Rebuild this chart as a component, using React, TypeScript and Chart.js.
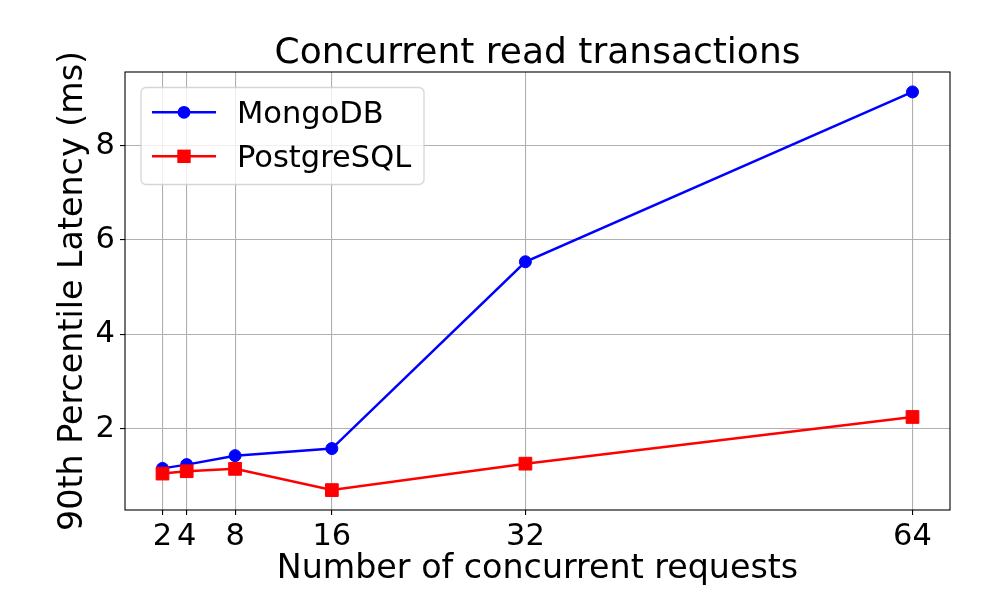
import React, { useEffect, useRef } from "react";
import { Chart, registerables } from "chart.js";

Chart.register(...registerables);

const titleText = "Concurrent read transactions";
const xAxisLabel = "Number of concurrent requests";
const yAxisLabel = "90th Percentile Latency (ms)";
const xValues = [2, 4, 8, 16, 32, 64];
const mongoValues = [1.16, 1.24, 1.43, 1.58, 5.54, 9.14];
const postgresValues = [1.05, 1.1, 1.15, 0.7, 1.26, 2.25];
const yTickValues = [2, 4, 6, 8];
const seriesLabels = ["MongoDB", "PostgreSQL"];

const FONT = "'DejaVu Sans', 'Liberation Sans', sans-serif";

const spinePlugin = {
  id: "spines",
  afterDatasetsDraw(chart: any) {
    const { ctx, chartArea } = chart;
    ctx.save();
    ctx.strokeStyle = "#000";
    ctx.lineWidth = 1.1;
    ctx.strokeRect(chartArea.left, chartArea.top, chartArea.right - chartArea.left, chartArea.bottom - chartArea.top);
    ctx.restore();
  },
};

const legendPlugin = {
  id: "mplLegend",
  afterDraw(chart: any) {
    const { ctx, chartArea } = chart;
    const left = chartArea.left + 16;
    const top = chartArea.top + 15.5;
    const w = 283;
    const h = 97;
    ctx.save();
    ctx.beginPath();
    if ((ctx as any).roundRect) (ctx as any).roundRect(left, top, w, h, 5);
    else ctx.rect(left, top, w, h);
    ctx.fillStyle = "rgba(255,255,255,0.8)";
    ctx.fill();
    ctx.strokeStyle = "rgba(204,204,204,0.8)";
    ctx.lineWidth = 1.3;
    ctx.stroke();
    chart.data.datasets.forEach((ds: any, i: number) => {
      const y = top + 24.8 + i * 44;
      const x0 = left + 11;
      const x1 = left + 75;
      const xm = (x0 + x1) / 2;
      ctx.strokeStyle = ds.borderColor;
      ctx.lineWidth = 2.5;
      ctx.beginPath();
      ctx.moveTo(x0, y);
      ctx.lineTo(x1, y);
      ctx.stroke();
      ctx.fillStyle = ds.pointBackgroundColor;
      ctx.beginPath();
      if (ds.pointStyle === "rect") {
        ctx.rect(xm - 6.7, y - 6.7, 13.4, 13.4);
      } else {
        ctx.arc(xm, y, 6.4, 0, Math.PI * 2);
      }
      ctx.fill();
      ctx.fillStyle = "#000";
      ctx.font = `30.5px ${FONT}`;
      ctx.textBaseline = "alphabetic";
      ctx.textAlign = "left";
      ctx.fillText(ds.label, left + 96, y + 10.5);
    });
    ctx.restore();
  },
};

export default function App() {
  const canvasRef = useRef<HTMLCanvasElement | null>(null);

  useEffect(() => {
    const canvas = canvasRef.current;
    if (!canvas) return;
    const chart = new Chart(canvas, {
      type: "line",
      data: {
        datasets: [
          {
            label: seriesLabels[0],
            data: xValues.map((x, i) => ({ x, y: mongoValues[i] })),
            borderColor: "#0000ff",
            backgroundColor: "#0000ff",
            pointBackgroundColor: "#0000ff",
            pointBorderColor: "#0000ff",
            pointStyle: "circle",
            pointRadius: 6,
            pointBorderWidth: 1,
            borderWidth: 2.5,
            tension: 0,
            order: 1,
            clip: false as any,
          },
          {
            label: seriesLabels[1],
            data: xValues.map((x, i) => ({ x, y: postgresValues[i] })),
            borderColor: "#ff0000",
            backgroundColor: "#ff0000",
            pointBackgroundColor: "#ff0000",
            pointBorderColor: "#ff0000",
            pointStyle: "rect",
            pointRadius: 9,
            pointBorderWidth: 1,
            borderWidth: 2.5,
            tension: 0,
            order: 0,
            clip: false as any,
          },
        ],
      },
      options: {
        responsive: false,
        animation: false,
        devicePixelRatio: 1,
        layout: { padding: { left: 0, right: 50, top: 0, bottom: 0 } },
        plugins: {
          legend: { display: false },
          tooltip: { enabled: false },
          title: {
            display: true,
            text: titleText,
            fullSize: false,
            color: "#000",
            font: { family: FONT, size: 36, weight: "normal", lineHeight: 1 },
            padding: { top: 36, bottom: 0 },
          },
        },
        scales: {
          x: {
            type: "linear",
            min: -1.1,
            max: 67.1,
            afterBuildTicks: (scale: any) => {
              scale.ticks = xValues.map((v) => ({ value: v }));
            },
            afterFit: (scale: any) => {
              scale.height = 90;
            },
            grid: {
              color: "#b0b0b0",
              lineWidth: 1.1,
              drawTicks: true,
              tickLength: 5,
              tickColor: "#000",
              tickWidth: 1.1,
            },
            border: { display: false },
            ticks: {
              color: "#000",
              font: { family: FONT, size: 30.5 },
              padding: 4,
              maxRotation: 0,
              autoSkip: false,
              callback: (v: any) => String(v),
            },
            title: {
              display: true,
              text: xAxisLabel,
              color: "#000",
              font: { family: FONT, size: 33.3, lineHeight: 1 },
              padding: { top: 0, bottom: 14 },
            },
          },
          y: {
            type: "linear",
            min: 0.278,
            max: 9.562,
            afterBuildTicks: (scale: any) => {
              scale.ticks = yTickValues.map((v) => ({ value: v }));
            },
            afterFit: (scale: any) => {
              scale.width = 125;
            },
            grid: {
              color: "#b0b0b0",
              lineWidth: 1.1,
              drawTicks: true,
              tickLength: 5,
              tickColor: "#000",
              tickWidth: 1.1,
            },
            border: { display: false },
            ticks: {
              color: "#000",
              font: { family: FONT, size: 30.5 },
              padding: 5,
              callback: (v: any) => String(v),
            },
            title: {
              display: true,
              text: yAxisLabel,
              color: "#000",
              font: { family: FONT, size: 33.3, lineHeight: 1 },
              padding: { top: 56.5, bottom: 0 },
            },
          },
        },
      },
      plugins: [spinePlugin, legendPlugin],
    });
    return () => chart.destroy();
  }, []);

  return (
    <div style={{ position: "absolute", left: 0, top: 0, width: 1000, height: 600, background: "#fff" }}>
      <canvas ref={canvasRef} width={1000} height={600} style={{ display: "block", width: 1000, height: 600 }} />
    </div>
  );
}
